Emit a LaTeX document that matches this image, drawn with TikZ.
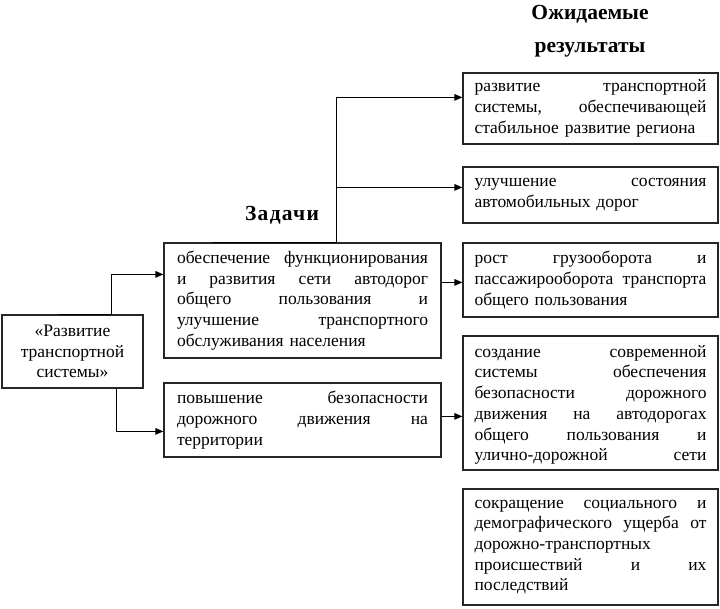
\documentclass[tikz,border=0pt]{standalone}
\usepackage{fontspec}
\setmainfont{Liberation Serif}
\usetikzlibrary{arrows.meta,calc}
\begin{document}
\begin{tikzpicture}[x=1pt,y=-1pt,
  box/.style={draw=black!85,line width=1.2pt,inner sep=0pt,anchor=center,
     font=\fontsize{17.5}{20.7}\selectfont},
  arr/.style={line width=1.2pt,-{Triangle[length=8pt,width=6.5pt]}},
  ttl/.style={inner sep=0pt,font=\fontsize{21.5}{33}\selectfont\bfseries}]
\useasboundingbox (0,0) rectangle (720,609);
\node[box,minimum width=141pt,minimum height=73pt,align=center] (L) at (72.5,351.5)
  {«Развитие\\транспортной\\системы»};
\node[box,minimum width=277pt,minimum height=115pt,text width=251pt] (T1) at (302.5,300.5) {%
обеспечение\hfill функционирования\\
и\hfill развития\hfill сети\hfill автодорог\\
общего\hfill пользования\hfill и\\
улучшение\hfill транспортного\\
обслуживания населения};
\node[box,minimum width=277pt,minimum height=74pt,text width=251pt] (T2) at (302.5,420) {%
повышение\hfill безопасности\\
дорожного\hfill движения\hfill на\\
территории};
\node[box,minimum width=255pt,minimum height=71pt,text width=232pt] (R1) at (590.5,108.5) {%
развитие\hfill транспортной\\
системы,\hfill обеспечивающей\\
стабильное развитие региона};
\node[box,minimum width=255pt,minimum height=56pt,text width=232pt] (R2) at (590.5,195) {%
улучшение\hfill состояния\\
автомобильных дорог};
\node[box,minimum width=255pt,minimum height=74pt,text width=232pt] (R3) at (590.5,280) {%
рост\hfill грузооборота\hfill и\\
пассажирооборота\hfill транспорта\\
общего пользования};
\node[box,minimum width=255pt,minimum height=134pt,text width=232pt] (R4) at (590.5,403) {%
создание\hfill современной\\
системы\hfill обеспечения\\
безопасности\hfill дорожного\\
движения\hfill на\hfill автодорогах\\
общего\hfill пользования\hfill и\\
улично-дорожной\hfill сети\\[-20.7pt]\mbox{}};
\node[box,minimum width=255pt,minimum height=116pt,text width=232pt] (R5) at (590.5,547) {%
сокращение\hfill социального\hfill и\\
демографического\hfill ущерба\hfill от\\
дорожно-транспортных\\
происшествий\hfill и\hfill их\\
последствий};
\node[ttl] (tz) at (282,215) {\addfontfeature{LetterSpace=6}Задачи};
\node[ttl,align=center] (tr) at (590,31) {Ожидаемые\\результаты};
% connectors
\draw[arr] ([xshift=58pt]L.north west) -- ([xshift=110pt]L.north west) |- ([yshift=-32pt]T1.north west);
\draw[arr] ([xshift=115pt]L.south west) |- ([yshift=-49pt]T2.north west);
\coordinate (j) at ([xshift=173pt]T1.north west);
\draw[arr] ([xshift=49pt]T1.north west) -- (j) |- ([yshift=-25pt]R1.north west);
\draw[arr] (j) |- ([yshift=-21pt]R2.north west);
\draw[arr] ([yshift=-40pt]T1.north east) -- ([yshift=-40pt]R3.north west);
\draw[arr] ([yshift=-34pt]T2.north east) -- ([yshift=-34pt]T2.north east -| R4.west);
\end{tikzpicture}
\end{document}
